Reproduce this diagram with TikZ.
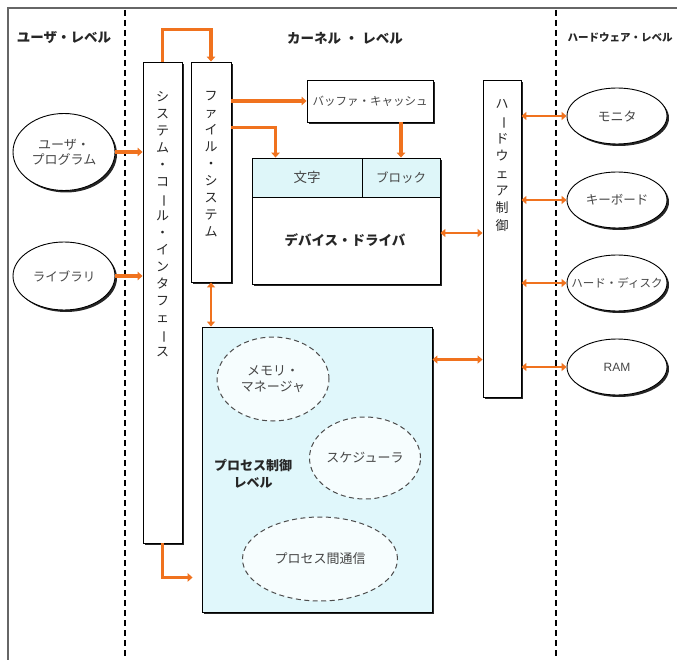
\documentclass[tikz,border=0pt]{standalone}
\usepackage{fontspec}
\usepackage{graphicx}
\setmainfont{Liberation Sans}
\newfontfamily\jp{Noto Sans CJK JP}
\usetikzlibrary{arrows.meta,shapes.geometric,shadows,calc}
\definecolor{arrc}{RGB}{240,114,30}
\definecolor{pcfill}{RGB}{224,247,251}
\definecolor{cellfill}{RGB}{222,246,249}
\definecolor{txtg}{RGB}{70,70,70}
\newcommand\vbar{\rotatebox[origin=c]{-90}{ー}}
\begin{document}
\begin{tikzpicture}[x=1pt,y=-1pt,
  shadowed/.style={drop shadow={shadow xshift=2pt,shadow yshift=-2pt,fill=black,opacity=0.85}},
  box/.style={draw=black,line width=0.9pt,fill=white,shadowed,inner sep=0pt,rectangle},
  vtext/.style={align=center,font=\jp\fontsize{13}{17}\selectfont,text=black!85,inner sep=0pt},
  blab/.style={font=\jp\bfseries\fontsize{13.5}{17}\selectfont,text=black!85,align=center},
  hdr/.style={font=\jp\bfseries\fontsize{13.5}{16}\selectfont,text=black!85},
  hwell/.style={ellipse,draw=black,line width=0.9pt,fill=white,shadowed,minimum width=100pt,minimum height=56pt,inner sep=0pt,font=\jp\fontsize{13}{15}\selectfont,text=txtg},
  dell/.style={ellipse,draw=black!70,dashed,dash pattern=on 5pt off 3.5pt,line width=1pt,fill=white!70!pcfill,inner sep=0pt,font=\jp\fontsize{13}{16.5}\selectfont,text=txtg,align=center},
  cell/.style={draw=black,line width=0.9pt,fill=cellfill,minimum height=39pt,inner sep=0pt,text=txtg},
  arr/.style={draw=arrc,line width=3.6pt,-{Triangle[length=5pt,width=8.5pt]}},
  darr/.style={draw=arrc,line width=2.8pt,{Triangle[length=5pt,width=8pt]}-{Triangle[length=5pt,width=8pt]}},
  sep/.style={draw=black,line width=1.1pt,dash pattern=on 6pt off 4pt}
]
\useasboundingbox (0,0) rectangle (677,660);
\fill[white] (0,0) rectangle (677,660);
% frame
\draw[black!60,line width=1.5pt] (677,8) -- (8,8) -- (8,660);
\draw[sep] (125,10) -- (125,660);
\draw[sep] (556,10) -- (556,660);
% headers
\node[hdr] (hu) at (64,38) {ユーザ・レベル};
\node[hdr] (hk) at (345,38) {カーネル\hspace{4pt}・\hspace{4pt}レベル};
\node[hdr,font=\jp\bfseries\fontsize{10.5}{13}\selectfont] (hh) at (620,38) {ハードウェア・レベル};
% user level ellipses
\node[hwell,minimum width=102pt,minimum height=77pt,align=center] (up) at (64,152) {ユーザ・\\プログラム};
\node[hwell,minimum width=102pt,minimum height=68pt,font=\jp\fontsize{12.5}{15}\selectfont] (lib) at (64,276) {ライブラリ};
% system call interface
\node[box,minimum width=39pt,minimum height=481pt] (sci) at (162.5,302.5) {};
\node[vtext] (scit) at (162.5,224.5) {シ\\ス\\テ\\ム\\・\\コ\\\vbar\\ル\\・\\イ\\ン\\タ\\フ\\ェ\\\vbar\\ス};
% file system
\node[box,minimum width=40pt,minimum height=220pt] (fs) at (211,172) {};
\node[vtext] (fst) at (211,164) {フ\\ァ\\イ\\ル\\・\\シ\\ス\\テ\\ム};
% buffer cache
\node[box,minimum width=126pt,minimum height=42pt,font=\jp\fontsize{11.5}{13}\selectfont,text=txtg] (bc) at (370,101) {バッファ・キャッシュ};
% device driver
\node[box,minimum width=188pt,minimum height=126pt] (dd) at (346,221) {};
\node[cell,minimum width=110pt,font=\jp\fontsize{13.5}{15}\selectfont] (moji) at (307,177.5) {文字};
\node[cell,minimum width=78pt,font=\jp\fontsize{12.5}{15}\selectfont] (blk) at (401,177.5) {ブロック};
\node[blab] (ddt) at (345,240) {デバイス・ドライバ};
% hardware control
\node[box,minimum width=38pt,minimum height=317pt] (hw) at (502,238.5) {};
\node[vtext,font=\jp\fontsize{13}{17.3}\selectfont] (hwt) at (502,165.5) {ハ\\\vbar\\ド\\ウ\\ェ\\ア\\制\\御};
% process control
\node[box,fill=pcfill,minimum width=230pt,minimum height=285pt] (pc) at (317,469.5) {};
\node[dell,minimum width=112pt,minimum height=84pt] (mm) at (273,379) {メモリ・\\マネージャ};
\node[dell,minimum width=111pt,minimum height=82pt] (sch) at (365,458) {スケジューラ};
\node[dell,minimum width=155pt,minimum height=84pt] (ipc) at (320,559) {プロセス間通信};
\node[blab,font=\jp\bfseries\fontsize{13}{17}\selectfont] (pct) at (253,474) {プロセス制御\\レベル};
% hardware ellipses
\node[hwell] (mon) at (617,116) {モニタ};
\node[hwell,font=\jp\fontsize{12.5}{15}\selectfont] (kb) at (617,200) {キーボード};
\node[hwell,font=\jp\fontsize{11.5}{14}\selectfont] (hd) at (617,283) {\makebox[0pt]{ハード・ディスク}};
\node[hwell,font=\fontsize{12}{14}\selectfont] (ram) at (617,367) {RAM};
% arrows
\draw[arr] (sci.north) -- ++(0,-32) -| (fs.north);
\draw[arr] (up.east) -- (up.east -| sci.west);
\draw[arr] (lib.east) -- (lib.east -| sci.west);
\draw[arr] (fs.east |- bc.west) -- (bc.west);
\draw[arr] ([yshift=-66pt]fs.north east) -| ([xshift=24pt]dd.north west);
\draw[arr] (bc.south -| blk.north) -- (blk.north);
\draw[darr] (fs.south) -- (fs.south |- pc.north);
\draw[arr] (sci.south) |- ([xshift=-9pt,yshift=35pt]pc.south west);
\draw[darr] ([yshift=-12pt]dd.east) -- ([yshift=-12pt]dd.east -| hw.west);
\draw[darr] ([yshift=-33pt]pc.north east) -- ([yshift=-33pt]pc.north east -| hw.west);
\draw[darr] (hw.east |- mon.west) -- (mon.west);
\draw[darr] (hw.east |- kb.west) -- (kb.west);
\draw[darr] (hw.east |- hd.west) -- (hd.west);
\draw[darr] (hw.east |- ram.west) -- (ram.west);
\end{tikzpicture}
\end{document}
